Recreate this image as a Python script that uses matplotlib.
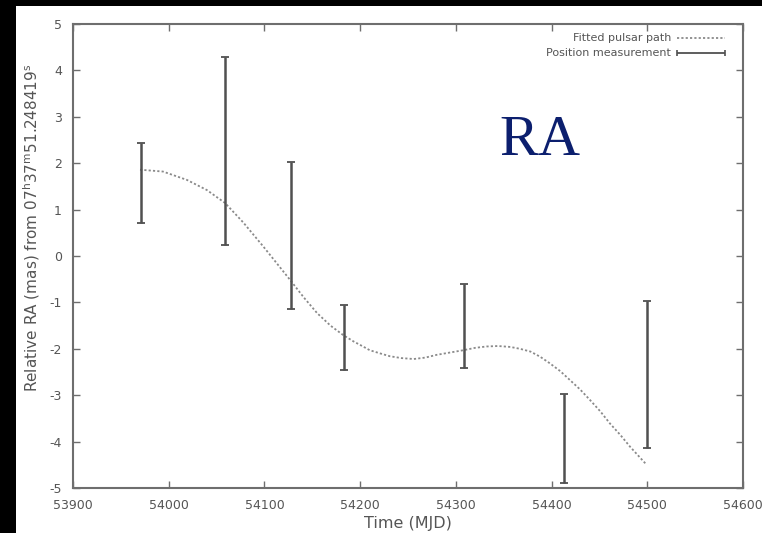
import matplotlib
matplotlib.use('Agg')
import matplotlib.pyplot as plt
from matplotlib.patches import Rectangle
import numpy as np

# VLBI position measurements (MJD, error bar bottom/top in mas)
mjd_obs = [53971, 54059, 54128, 54183, 54309, 54413, 54500]
ra_low = [0.71, 0.24, -1.15, -2.46, -2.42, -4.90, -4.14]
ra_high = [2.44, 4.28, 2.03, -1.06, -0.60, -2.97, -0.96]

# fitted path (parallax + proper motion), sampled
mjd_fit = [53970, 53994, 54019, 54040, 54059, 54078, 54099, 54113, 54127, 54141,
           54155, 54169, 54182, 54193, 54203, 54210, 54221, 54231, 54243, 54256,
           54268, 54280, 54294, 54308, 54320, 54332, 54344, 54357, 54367, 54378,
           54388, 54398, 54409, 54419, 54430, 54440, 54451, 54461, 54472, 54482,
           54498]
ra_fit = [1.86, 1.82, 1.64, 1.42, 1.14, 0.72, 0.20, -0.16, -0.52, -0.89,
          -1.23, -1.50, -1.70, -1.84, -1.95, -2.03, -2.10, -2.16, -2.20, -2.22,
          -2.19, -2.13, -2.08, -2.03, -1.98, -1.95, -1.94, -1.96, -2.00, -2.06,
          -2.17, -2.31, -2.48, -2.67, -2.88, -3.10, -3.35, -3.61, -3.86, -4.11,
          -4.47]

xticks = [53900, 54000, 54100, 54200, 54300, 54400, 54500, 54600]
yticks = [-5, -4, -3, -2, -1, 0, 1, 2, 3, 4, 5]

plt.rcParams['font.family'] = ['DejaVu Sans']
plt.rcParams['axes.unicode_minus'] = False
txt = '#555555'
frame = '#6e6e6e'

fig = plt.figure(figsize=(7.62, 5.33), dpi=100)
fig.patch.set_facecolor('white')
ax = fig.add_axes([73/762, 45/533, 670/762, 464/533])

ax.plot(mjd_fit, ra_fit, ls=(0, (1.2, 1.2)), lw=1.3, color='#8a8a8a')
mid = (np.array(ra_low) + np.array(ra_high)) / 2
err = (np.array(ra_high) - np.array(ra_low)) / 2
ax.errorbar(mjd_obs, mid, yerr=err, fmt='none', ecolor='#505050',
            elinewidth=1.8, capsize=3, capthick=1.3)

ax.set_xlim(53900, 54600)
ax.set_ylim(-5, 5)
ax.set_xticks(xticks)
ax.set_yticks(yticks)
ax.tick_params(direction='in', length=5, width=1, color=frame, labelcolor=txt,
               labelsize=9, top=True, right=True, pad=8)
for s in ax.spines.values():
    s.set_color(frame)
    s.set_linewidth(1.5)

ax.set_xlabel('Time (MJD)', color=txt, fontsize=11.5, labelpad=3)
ax.set_ylabel(r'Relative RA (mas) from 07$^{\mathrm{h}}$37$^{\mathrm{m}}$51.248419$^{\mathrm{s}}$',
              color=txt, fontsize=11)
ax.yaxis.set_label_coords(-0.047, 0.56)

# key in the upper right corner
ax.text(0.893, 0.970, 'Fitted pulsar path', transform=ax.transAxes,
        ha='right', va='center', fontsize=8, color=txt)
ax.text(0.893, 0.9375, 'Position measurement', transform=ax.transAxes,
        ha='right', va='center', fontsize=8, color=txt)
ax.plot([0.9015, 0.973], [0.970, 0.970], transform=ax.transAxes,
        ls=(0, (1.2, 1.2)), lw=1.3, color='#8a8a8a')
ax.errorbar([0.937], [0.9375], xerr=[0.0355], transform=ax.transAxes, fmt='none',
            ecolor='#505050', elinewidth=1.3, capsize=2, capthick=1.2)

ax.text(540/762, 378/533, 'RA', transform=fig.transFigure, ha='center',
        va='baseline', fontsize=42, color='#0c1f6e',
        family=['Liberation Serif', 'DejaVu Serif'])

# dark frame strips along the left and top edges
fig.patches.append(Rectangle((0, 0), 16/762, 1, transform=fig.transFigure,
                             facecolor='black', edgecolor='none', zorder=10))
fig.patches.append(Rectangle((0, 527/533), 1, 6/533, transform=fig.transFigure,
                             facecolor='black', edgecolor='none', zorder=10))

fig.savefig('out.png', dpi=100)
